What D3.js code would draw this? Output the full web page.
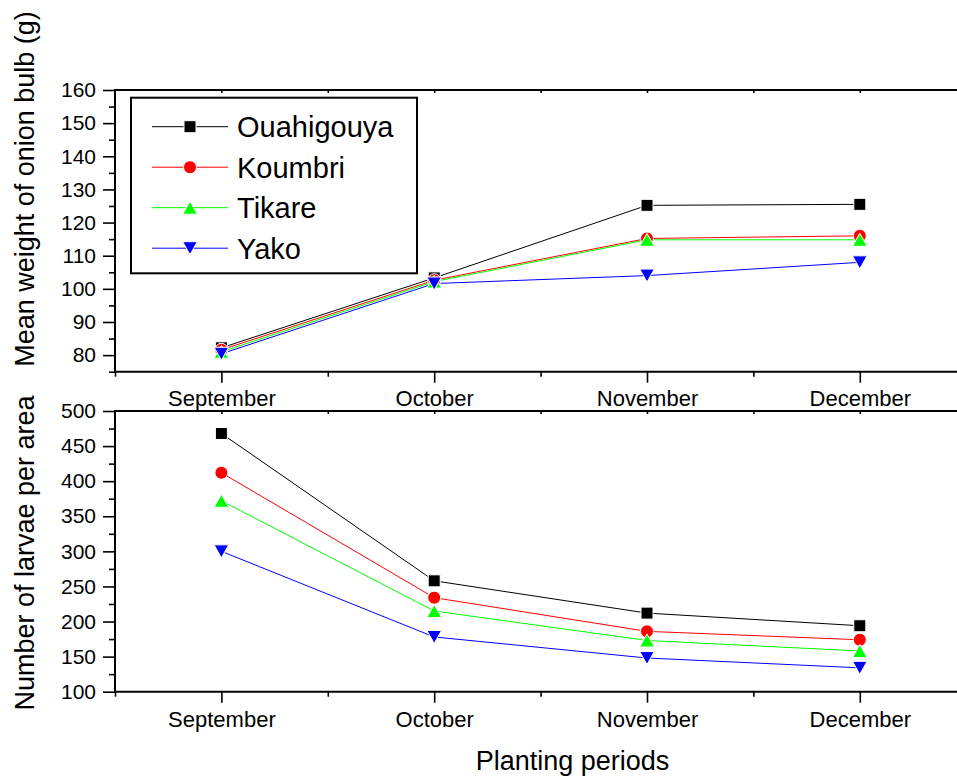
<!DOCTYPE html>
<html>
<head>
<meta charset="utf-8">
<script src="https://cdn.jsdelivr.net/npm/d3@7"></script>
<style>
  body { margin: 0; background: #fff; }
  svg { display: block; font-family: "Liberation Sans", Arial, sans-serif; }
</style>
</head>
<body>
<svg id="chart" width="957" height="777"></svg>
<script>
const months = ['September', 'October', 'November', 'December'];
const sites = ['Ouahigouya', 'Koumbri', 'Tikare', 'Yako'];

// mean weight of onion bulb (g)
const weightOuahigouya = [82.2, 103.3, 125.2, 125.5];
const weightKoumbri = [81.6, 102.6, 115.2, 116.0];
const weightTikare = [81.0, 102.2, 114.8, 114.8];
const weightYako = [80.4, 101.6, 104.0, 108.0];

// number of larvae per area
const larvaeOuahigouya = [468, 258, 212, 194];
const larvaeKoumbri = [412, 234, 186, 174];
const larvaeTikare = [372, 215, 173, 158];
const larvaeYako = [300, 178, 148, 134];

const weightTicks = [80, 90, 100, 110, 120, 130, 140, 150, 160];
const larvaeTicks = [100, 150, 200, 250, 300, 350, 400, 450, 500];

const colors = { Ouahigouya: '#000000', Koumbri: '#ff0000', Tikare: '#00ff00', Yako: '#0000ff' };
const shapes = { Ouahigouya: 'square', Koumbri: 'circle', Tikare: 'up', Yako: 'down' };

const svg = d3.select('#chart');
const width = 957;
const left = 115;

const x = d3.scaleLinear([0.5, 4.5], [left, left + 4 * 212.8]);

/*
Marker path generator, centered on the bounding box.
*/
function marker(shape) {
  if (shape === 'square') return 'M-6,-6H6V6H-6Z';
  if (shape === 'circle') return d3.symbol(d3.symbolCircle, Math.PI * 6.5 * 6.5)();
  if (shape === 'up') return 'M0,-6.5L7.3,6.5H-7.3Z';
  return 'M0,6.5L7.3,-6.5H-7.3Z';
}

function panel(opts) {
  const { top, bottom, domain, ticks, minorStep, series, labelPad, title, titleY } = opts;
  const y = d3.scaleLinear(domain, [bottom, top]);
  const g = svg.append('g');

  const minor = d3.range(domain[0], domain[1] + 0.001, minorStep).filter(v => !ticks.includes(v));

  /*
  Left axis: major and minor ticks.
  */
  g.append('g')
    .attr('transform', `translate(${left},0)`)
    .call(d3.axisLeft(y).tickValues(minor).tickSize(6).tickFormat(''))
    .call(a => a.select('.domain').remove());
  g.append('g')
    .attr('transform', `translate(${left},0)`)
    .call(d3.axisLeft(y).tickValues(ticks).tickSize(12).tickSizeOuter(0).tickPadding(7))
    .call(a => a.select('.domain').remove())
    .selectAll('text')
    .style('font-size', '21px')
    .attr('fill', '#000');

  /*
  Bottom axis.
  */
  const xMinor = [0.5, 1.5, 2.5, 3.5];
  g.append('g')
    .attr('transform', `translate(0,${bottom})`)
    .call(d3.axisBottom(x).tickValues(xMinor).tickSize(5).tickFormat(''))
    .call(a => a.select('.domain').remove());
  g.append('g')
    .attr('transform', `translate(0,${bottom})`)
    .call(d3.axisBottom(x).tickValues([1, 2, 3, 4]).tickSize(11).tickPadding(labelPad).tickFormat(d => months[d - 1]))
    .call(a => a.select('.domain').remove())
    .selectAll('text')
    .style('font-size', '22px')
    .attr('fill', '#000');

  // small inward ticks on the top border
  g.append('g')
    .attr('transform', `translate(0,${top})`)
    .call(d3.axisBottom(x).tickValues([1, 1.5, 2, 2.5, 3, 3.5, 4]).tickSize(3).tickFormat(''))
    .call(a => a.select('.domain').remove());

  g.selectAll('.tick line').attr('stroke', '#000').attr('stroke-width', 1.6);

  /*
  Frame.
  */
  g.append('path')
    .attr('d', `M${width},${top}H${left}V${bottom}H${width}`)
    .attr('fill', 'none')
    .attr('stroke', '#000')
    .attr('stroke-width', 2);

  /*
  Lines and markers.
  */
  const line = d3.line()
    .x((d, i) => x(i + 1))
    .y(d => y(d));

  series.forEach(([name, values]) => {
    g.append('path')
      .datum(values)
      .attr('d', line)
      .attr('fill', 'none')
      .attr('stroke', colors[name])
      .attr('stroke-width', 1);
  });
  series.forEach(([name, values]) => {
    g.selectAll(null)
      .data(values)
      .join('path')
      .attr('transform', (d, i) => `translate(${x(i + 1)},${y(d)})`)
      .attr('d', marker(shapes[name]))
      .attr('fill', colors[name])
      .attr('stroke', '#fff')
      .attr('stroke-width', 1);
  });

  svg.append('text')
    .attr('transform', `translate(33.5,${titleY}) rotate(-90)`)
    .attr('text-anchor', 'middle')
    .style('font-size', '27px')
    .text(title);
}

panel({
  top: 90, bottom: 371.7, domain: [75, 160], ticks: weightTicks, minorStep: 5, labelPad: 8,
  title: 'Mean weight of onion bulb (g)', titleY: 189,
  series: [['Ouahigouya', weightOuahigouya], ['Koumbri', weightKoumbri], ['Tikare', weightTikare], ['Yako', weightYako]]
});

panel({
  top: 411, bottom: 691.7, domain: [100, 500], ticks: larvaeTicks, minorStep: 25, labelPad: 9,
  title: 'Number of larvae per area', titleY: 553,
  series: [['Ouahigouya', larvaeOuahigouya], ['Koumbri', larvaeKoumbri], ['Tikare', larvaeTikare], ['Yako', larvaeYako]]
});

/*
X axis title.
*/
svg.append('text')
  .attr('x', 572.5)
  .attr('y', 770)
  .attr('text-anchor', 'middle')
  .style('font-size', '27px')
  .text('Planting periods');

/*
Legend.
*/
const legend = svg.append('g');
legend.append('rect')
  .attr('x', 131).attr('y', 97.7)
  .attr('width', 286).attr('height', 175.6)
  .attr('fill', '#fff')
  .attr('stroke', '#000')
  .attr('stroke-width', 2);

const rows = legend.selectAll('g.row')
  .data(sites)
  .join('g')
  .attr('class', 'row')
  .attr('transform', (d, i) => `translate(0,${126.7 + i * 40.5})`);
rows.append('line')
  .attr('x1', 152).attr('x2', 228)
  .attr('stroke', d => colors[d])
  .attr('stroke-width', 1);
rows.append('path')
  .attr('transform', 'translate(190,0)')
  .attr('d', d => marker(shapes[d]))
  .attr('fill', d => colors[d])
  .attr('stroke', '#fff')
  .attr('stroke-width', 1);
rows.append('text')
  .attr('x', 237)
  .attr('dy', '0.36em')
  .style('font-size', '29px')
  .text(d => d);
</script>
</body>
</html>
